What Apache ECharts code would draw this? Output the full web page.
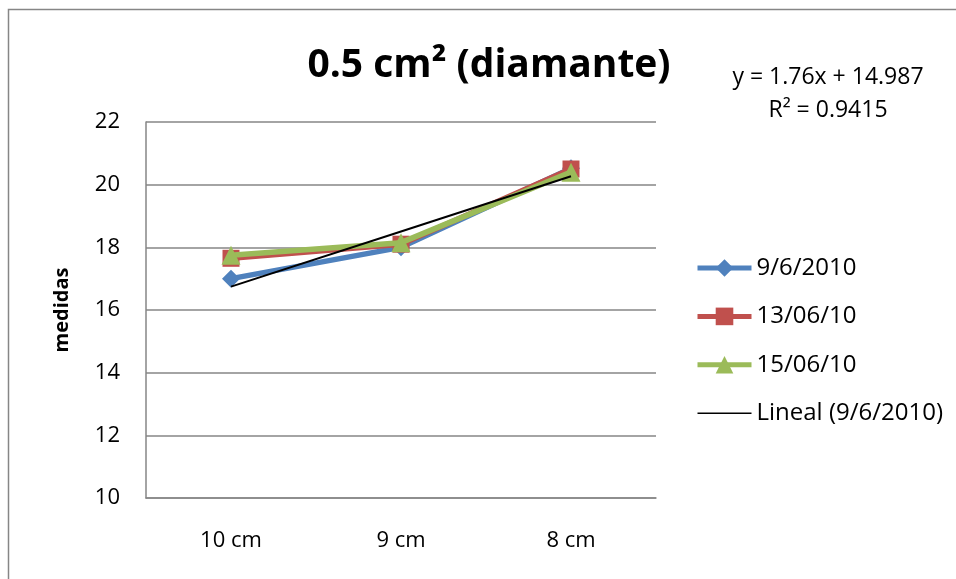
<!DOCTYPE html>
<html>
<head>
<meta charset="utf-8">
<script src="https://cdn.jsdelivr.net/npm/echarts@6/dist/echarts.min.js"></script>
<style>
  html, body { margin: 0; padding: 0; background: #fff; }
  #chart { width: 956px; height: 579px; }
</style>
</head>
<body>
<div id="chart"></div>
<script>
// datos
var categorias = ['10 cm', '9 cm', '8 cm'];
var serie1 = [17.0, 18.0, 20.52];   // 9/6/2010
var serie2 = [17.65, 18.1, 20.5];   // 13/06/10
var serie3 = [17.75, 18.15, 20.4];  // 15/06/10
var tendencia = [16.747, 18.507, 20.267]; // Lineal (9/6/2010)
var nombres = ['9/6/2010', '13/06/10', '15/06/10', 'Lineal (9/6/2010)'];

var fuente = '"Open Sans", sans-serif';
var chart = echarts.init(document.getElementById('chart'));

var option = {
  backgroundColor: '#ffffff',
  animation: false,
  title: {
    text: '0.5 cm² (diamante)',
    left: 484,
    textAlign: 'center',
    top: 41,
    textStyle: { fontFamily: fuente, fontSize: 39, fontWeight: 'bold', color: '#000' }
  },
  graphic: [{
    type: 'rect',
    shape: { x: 8.5, y: 9.5, width: 1000, height: 1000 },
    style: { fill: 'none', stroke: '#868686', lineWidth: 1.5 },
    silent: true
  }, {
    type: 'text',
    x: 828,
    y: 61,
    style: {
      text: 'y = 1.76x + 14.987\nR² = 0.9415',
      font: '23px ' + fuente,
      fill: '#000',
      align: 'center',
      lineHeight: 33
    }
  }],
  grid: { left: 146, right: 300, top: 122, bottom: 81 },
  xAxis: {
    type: 'category',
    data: categorias,
    boundaryGap: true,
    axisLine: { lineStyle: { color: '#868686', width: 1.5 } },
    axisTick: { show: false },
    axisLabel: { fontFamily: fuente, fontSize: 22, color: '#000', margin: 32 }
  },
  yAxis: {
    type: 'value',
    min: 10,
    max: 22,
    interval: 2,
    name: 'medidas',
    nameLocation: 'middle',
    nameGap: 74,
    nameTextStyle: { fontFamily: fuente, fontSize: 20, fontWeight: 'bold', color: '#000' },
    axisLine: { show: true, lineStyle: { color: '#868686', width: 1.5 } },
    axisTick: { show: false },
    axisLabel: { fontFamily: fuente, fontSize: 22, color: '#000', margin: 26 },
    splitLine: { lineStyle: { color: '#868686', width: 1.5 } }
  },
  legend: {
    orient: 'vertical',
    left: 695,
    top: 256,
    padding: 0,
    itemWidth: 54,
    itemHeight: 22,
    itemGap: 24.4,
    lineStyle: { width: 5 },
    textStyle: { fontFamily: fuente, fontSize: 24, color: '#000', lineHeight: 22 },
    data: [nombres[0], nombres[1], nombres[2], {
      name: nombres[3],
      icon: 'path://M0,0 M0,22 M0,10.2 L54,10.2 L54,11.8 L0,11.8 Z'
    }]
  },
  series: [{
    name: nombres[0],
    type: 'line',
    data: serie1,
    symbol: 'diamond',
    symbolSize: 18,
    color: '#4F81BD',
    lineStyle: { width: 5.5 },
    z: 2
  }, {
    name: nombres[1],
    type: 'line',
    data: serie2,
    symbol: 'rect',
    symbolSize: 17,
    color: '#C0504D',
    lineStyle: { width: 5.5 },
    z: 3
  }, {
    name: nombres[2],
    type: 'line',
    data: serie3,
    symbol: 'triangle',
    symbolSize: 19,
    color: '#9BBB59',
    lineStyle: { width: 5.5 },
    z: 4
  }, {
    name: nombres[3],
    type: 'line',
    data: tendencia,
    symbol: 'none',
    color: '#000000',
    lineStyle: { width: 2 },
    z: 5
  }]
};

chart.setOption(option);
</script>
</body>
</html>
